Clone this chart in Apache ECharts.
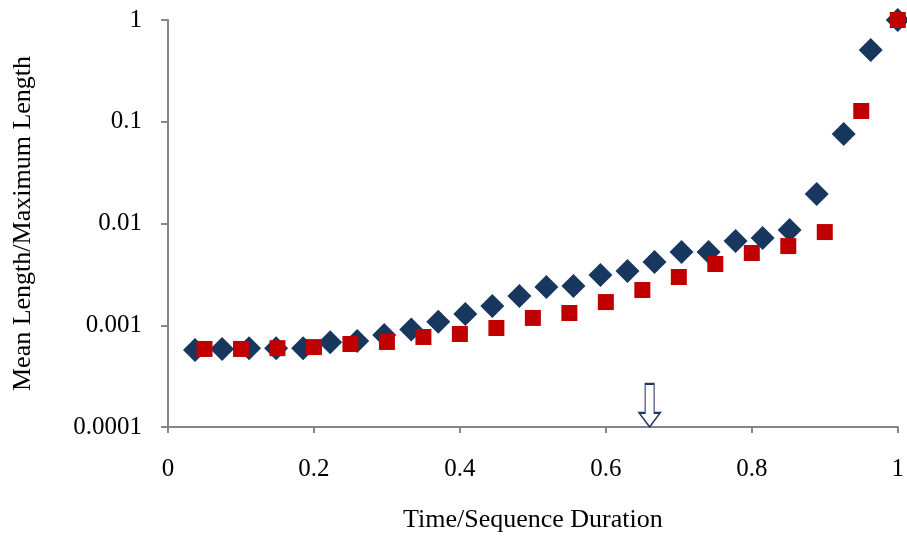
<!DOCTYPE html>
<html>
<head>
<meta charset="utf-8">
<script src="https://cdn.jsdelivr.net/npm/echarts@6/dist/echarts.min.js"></script>
<style>html,body{margin:0;padding:0;background:#fff;}#c{width:907px;height:539px;}</style>
</head>
<body>
<div id="c"></div>
<script>
// Blue diamonds: x = k/27, k = 1..27
const blueX = [1,2,3,4,5,6,7,8,9,10,11,12,13,14,15,16,17,18,19,20,21,22,23,24,25,26,27].map(k => k / 27);
const blueY = [0.00057, 0.000585, 0.000595, 0.000595, 0.000595, 0.00068, 0.0007, 0.0008, 0.00091, 0.00108, 0.00129, 0.00155, 0.00194, 0.00238, 0.00243, 0.00312, 0.00341, 0.00418, 0.00525, 0.00525, 0.00673, 0.0072, 0.00863, 0.0195, 0.0758, 0.507, 1.0];
// Red squares
const redX = [0.05, 0.1, 0.15, 0.2, 0.25, 0.3, 0.35, 0.4, 0.45, 0.5, 0.55, 0.6, 0.65, 0.7, 0.75, 0.8, 0.85, 0.9, 0.95, 1.0];
const redY = [0.000585, 0.000585, 0.000595, 0.00061, 0.000654, 0.000685, 0.000767, 0.00082, 0.00094, 0.00118, 0.00132, 0.00169, 0.00222, 0.00298, 0.0040, 0.00513, 0.0060, 0.00824, 0.1276, 1.0];
const xTicks = ['0', '0.2', '0.4', '0.6', '0.8', '1'];
const yTicks = ['0.0001', '0.001', '0.01', '0.1', '1'];
const arrowAt = [0.66, 0.000163];

const font = 'Liberation Serif';
const chart = echarts.init(document.getElementById('c'));
chart.setOption({
  animation: false,
  grid: { left: 168, right: 8, top: 20, bottom: 112, containLabel: false },
  xAxis: {
    type: 'value', min: 0, max: 1, interval: 0.2,
    name: 'Time/Sequence Duration', nameLocation: 'middle', nameGap: 80,
    nameTextStyle: { fontFamily: font, fontSize: 26, color: '#000' },
    axisLine: { show: true, lineStyle: { color: '#868686', width: 2 } },
    axisTick: { show: true, inside: false, length: 6, lineStyle: { color: '#868686', width: 2 } },
    axisLabel: { margin: 30, fontFamily: font, fontSize: 25, color: '#000',
      formatter: (v) => { const i = Math.round(v / 0.2); return xTicks[i] !== undefined ? xTicks[i] : ''; } },
    splitLine: { show: false }
  },
  yAxis: {
    type: 'log', logBase: 10, min: 0.0001, max: 1,
    name: 'Mean Length/Maximum Length', nameLocation: 'middle', nameGap: 132, nameRotate: 90,
    nameTextStyle: { fontFamily: font, fontSize: 26, color: '#000' },
    axisLine: { show: true, lineStyle: { color: '#868686', width: 2 } },
    axisTick: { show: true, inside: false, length: 7, lineStyle: { color: '#868686', width: 2 } },
    axisLabel: { margin: 26, fontFamily: font, fontSize: 25, color: '#000',
      formatter: (v) => { const i = Math.round(Math.log10(v)) + 4; return yTicks[i] !== undefined ? yTicks[i] : ''; } },
    minorTick: { show: false },
    splitLine: { show: false }
  },
  series: [
    {
      type: 'scatter', name: 'blue', symbol: 'diamond', symbolSize: [24, 24],
      itemStyle: { color: '#17375E', opacity: 1 },
      data: blueX.map((x, i) => [x, blueY[i]]),
      z: 2
    },
    {
      type: 'scatter', name: 'red', symbol: 'rect', symbolSize: [16, 16],
      itemStyle: { color: '#C00000', opacity: 1 },
      data: redX.map((x, i) => [x, redY[i]]),
      z: 3,
      markPoint: {
        silent: true,
        symbol: 'path://M6,0 L15,0 L15,29 L21,29 L10.5,43 L0,29 L6,29 Z',
        symbolSize: [21, 43],
        symbolKeepAspect: false,
        itemStyle: { color: '#ffffff', borderColor: '#1F3864', borderWidth: 1.5, opacity: 1 },
        label: { show: false },
        data: [{ coord: arrowAt }]
      }
    }
  ]
});
</script>
</body>
</html>
